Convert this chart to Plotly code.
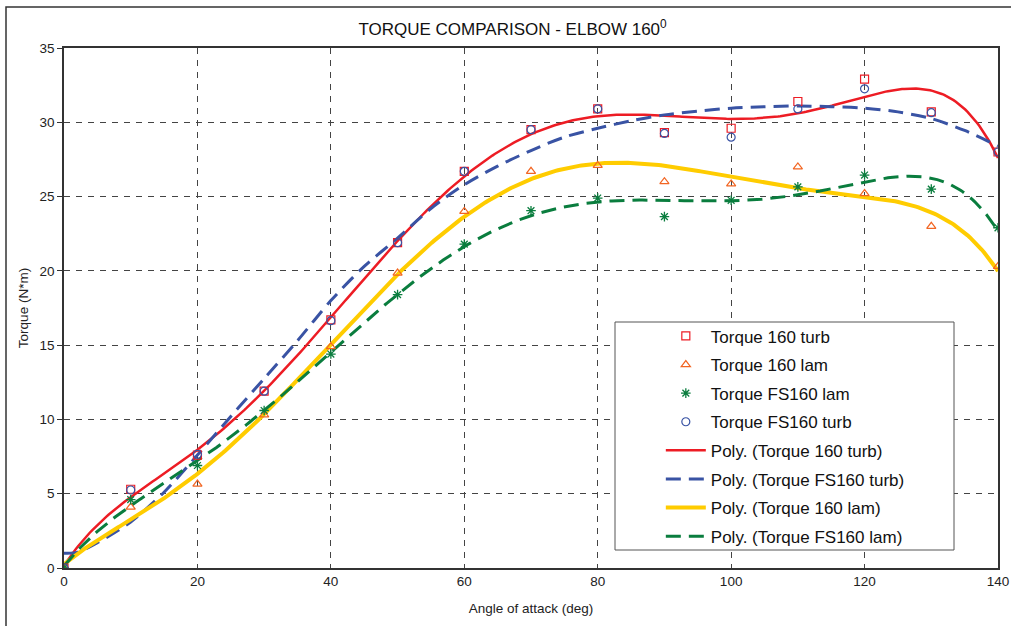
import numpy as np
import plotly.graph_objects as go

angle = [0, 10, 20, 30, 40, 50, 60, 70, 80, 90, 100, 110, 120, 130, 140]
torque_160_turb = [0, 5.3, 7.6, 11.9, 16.7, 21.9, 26.7, 29.5, 30.9, 29.3, 29.6, 31.4, 32.9, 30.7, 28.0]
torque_160_lam = [0, 4.1, 5.65, 10.3, 14.9, 19.85, 24.0, 26.7, 27.1, 26.0, 25.85, 27.0, 25.2, 23.0, 20.3]
torque_fs160_lam = [0, 4.6, 6.9, 10.6, 14.4, 18.4, 21.8, 24.05, 24.9, 23.65, 24.75, 25.65, 26.45, 25.5, 22.9]
torque_fs160_turb = [0, 5.25, 7.65, 11.9, 16.65, 21.9, 26.7, 29.5, 30.9, 29.25, 29.0, 30.9, 32.25, 30.65, 28.0]

# trendline of FS160 turb
trend_fs160_turb_x = [0, 2, 5, 10, 15, 20, 25, 30, 35, 40, 45, 50, 55, 60, 65, 70, 75,
                      80, 85, 90, 95, 100, 105, 110, 115, 120, 125, 130, 135, 140]
trend_fs160_turb_y = [1.0, 1.05, 1.7, 3.1, 5.1, 7.6, 10.2, 12.75, 15.3, 18.0, 20.3, 22.2, 24.2,
                      25.8, 27.05, 28.1, 29.0, 29.6, 30.1, 30.5, 30.75, 30.95, 31.05, 31.1, 31.05,
                      30.95, 30.7, 30.25, 29.45, 28.4]

x_ticks = [0, 20, 40, 60, 80, 100, 120, 140]
y_ticks = [0, 5, 10, 15, 20, 25, 30, 35]

RED = "#ed1c24"
ORANGE = "#f26522"
GREEN = "#0a7d3e"
BLUE = "#3953a4"
YELLOW = "#ffcc00"

xa = np.array(angle, dtype=float)
xs = np.linspace(0, 140, 400)


def trend(vals, deg=6):
    c = np.polyfit(xa, np.array(vals, dtype=float), deg)
    return np.polyval(c, xs)


fig = go.Figure()

fig.add_trace(go.Scatter(x=xs, y=trend(torque_160_turb), mode="lines",
                         line=dict(color=RED, width=2.5),
                         name="Poly. (Torque 160 turb)", legendrank=5, legendgroup="g5"))
fig.add_trace(go.Scatter(x=trend_fs160_turb_x, y=trend_fs160_turb_y, mode="lines",
                         line=dict(color=BLUE, width=3, dash="15px,8px", shape="spline", smoothing=0.8),
                         name="Poly. (Torque FS160 turb)", legendrank=6, legendgroup="g6"))
fig.add_trace(go.Scatter(x=xs, y=trend(torque_160_lam), mode="lines",
                         line=dict(color=YELLOW, width=4),
                         name="Poly. (Torque 160 lam)", legendrank=7, legendgroup="g7"))
fig.add_trace(go.Scatter(x=xs, y=trend(torque_fs160_lam), mode="lines",
                         line=dict(color=GREEN, width=3, dash="15px,8px"),
                         name="Poly. (Torque FS160 lam)", legendrank=8, legendgroup="g8"))

fig.add_trace(go.Scatter(x=angle, y=torque_160_turb, mode="markers",
                         marker=dict(symbol="square-open", size=8, color=RED, line=dict(width=1.2)),
                         name="Torque 160 turb", legendrank=1, legendgroup="g1"))
fig.add_trace(go.Scatter(x=angle, y=torque_160_lam, mode="markers",
                         marker=dict(symbol="triangle-up-open", size=8, color=ORANGE, line=dict(width=1.2)),
                         name="Torque 160 lam", legendrank=2, legendgroup="g2"))
fig.add_trace(go.Scatter(x=angle, y=torque_fs160_lam, mode="markers",
                         marker=dict(symbol="asterisk-open", size=8, color=GREEN, line=dict(width=1.3, color=GREEN)),
                         name="Torque FS160 lam", legendrank=3, legendgroup="g3"))
fig.add_trace(go.Scatter(x=angle, y=torque_fs160_turb, mode="markers",
                         marker=dict(symbol="circle-open", size=8, color=BLUE, line=dict(width=1.2)),
                         name="Torque FS160 turb", legendrank=4, legendgroup="g4"))

FONT = "Liberation Sans, Arial, sans-serif"

fig.update_layout(
    width=1011, height=626,
    margin=dict(l=64, r=13, t=48, b=58),
    paper_bgcolor="white", plot_bgcolor="white",
    font=dict(family=FONT, color="#222222", size=13.5),
    title=dict(text="TORQUE COMPARISON - ELBOW 160<sup>0</sup>", x=0.507, xref="container",
               y=0.953, yref="container", xanchor="center", yanchor="middle",
               font=dict(size=17, color="#111111")),
    showlegend=True,
    legend=dict(x=0.639, y=0.480, xanchor="left", yanchor="top",
                bgcolor="rgba(0,0,0,0)", borderwidth=0,
                font=dict(size=17, color="#111111"),
                traceorder="grouped", tracegroupgap=3.5, itemwidth=40),
    xaxis=dict(range=[0, 140], tickvals=x_ticks, ticktext=[str(v) for v in x_ticks],
               showgrid=True, gridcolor="#444444", gridwidth=1, griddash="6px,6px",
               showline=True, linecolor="#333333", linewidth=1.5, mirror=True,
               ticks="", zeroline=False, automargin=False,
               title=dict(text="Angle of attack (deg)", font=dict(size=13.5), standoff=16),
               tickfont=dict(size=13.5)),
    yaxis=dict(range=[0, 35], tickvals=y_ticks, ticktext=[str(v) for v in y_ticks],
               showgrid=True, gridcolor="#444444", gridwidth=1, griddash="6px,6px",
               showline=True, linecolor="#333333", linewidth=1.5, mirror=True,
               ticks="outside", ticklen=5, tickcolor="#333333", zeroline=False, automargin=False,
               title=dict(text="Torque (N*m)", font=dict(size=13.5), standoff=8),
               tickfont=dict(size=13.5)),
    shapes=[
        dict(type="rect", xref="paper", yref="paper",
             x0=(6 - 64) / 934, x1=1.1,
             y0=-0.2, y1=(568 - 7) / 520,
             line=dict(color="#333333", width=1.5), fillcolor="rgba(0,0,0,0)", layer="below"),
        dict(type="rect", xref="paper", yref="paper",
             x0=(615 - 64) / 934, x1=(954 - 64) / 934,
             y0=(568 - 550) / 520, y1=(568 - 322) / 520,
             line=dict(color="#555555", width=1), fillcolor="white", layer="above"),
    ],
)

fig.write_html("out.html", config={"displayModeBar": False},
               post_script="document.body.style.margin='0';document.body.style.overflow='hidden';")
